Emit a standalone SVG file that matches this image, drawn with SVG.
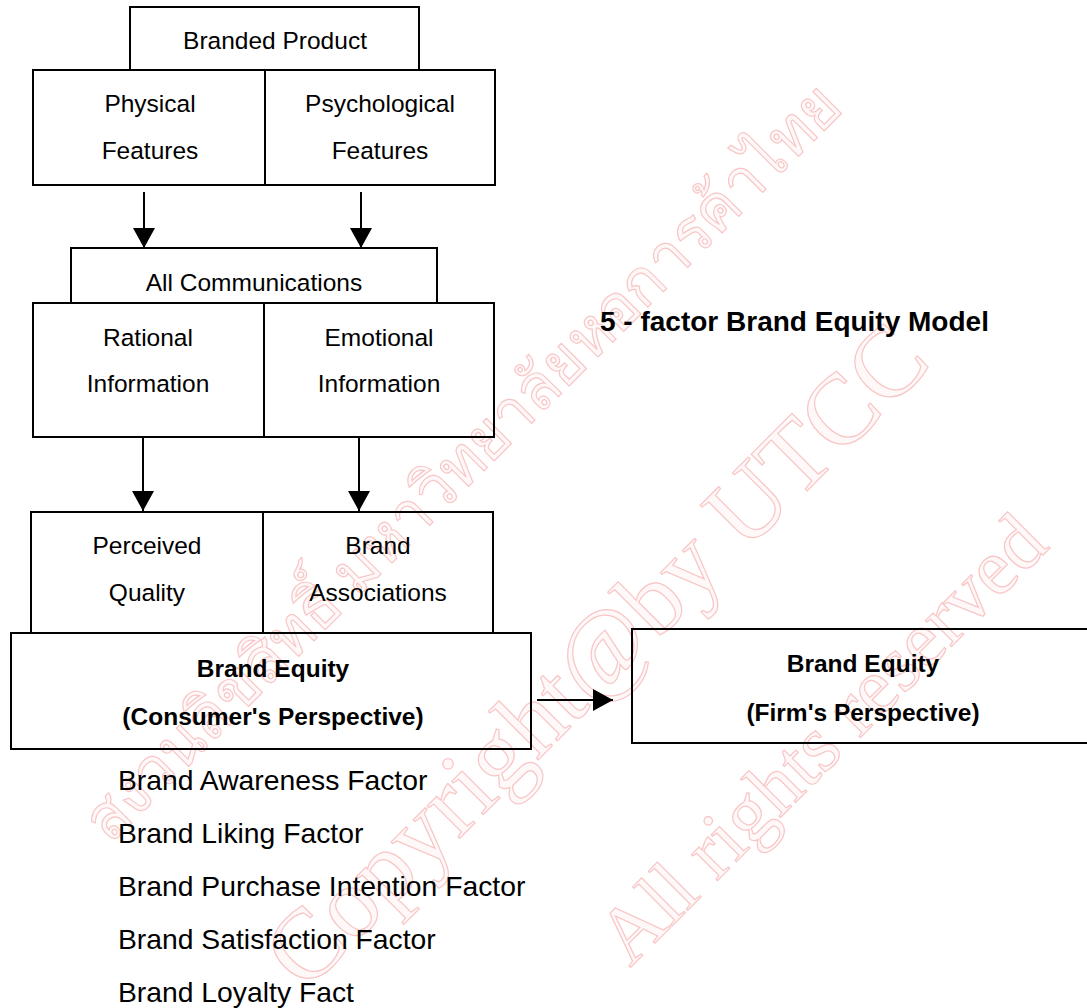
<svg xmlns="http://www.w3.org/2000/svg" width="1087" height="1008" viewBox="0 0 1087 1008">
<style>
.box{fill:none;stroke:#000;stroke-width:2}
.ln{stroke:#000;stroke-width:2;fill:none}
.t{font-family:"Liberation Sans",Arial,sans-serif;font-size:24.5px;text-anchor:middle;fill:#000}
.b{font-weight:bold}
.lst{font-family:"Liberation Sans",Arial,sans-serif;font-size:28.3px;fill:#000}
.wm{font-family:"Liberation Serif","Times New Roman",serif;fill:#fff8f8;stroke:#f8c6c6;stroke-width:1.2}
</style>
<defs>
<marker id="ah" markerUnits="userSpaceOnUse" markerWidth="22" markerHeight="22" refX="20" refY="11" orient="auto">
<path d="M0,0 L20,11 L0,22 z" fill="#000"/>
</marker>
</defs>
<rect width="1087" height="1008" fill="#fff"/>
<g id="watermark">
<text class="wm" x="110" y="845" font-size="64" textLength="1040" lengthAdjust="spacingAndGlyphs" transform="rotate(-45 110 845)">สงวนลิขสิทธิ์ มหาวิทยาลัยหอการค้าไทย</text>
<text class="wm" x="305" y="993" font-size="100" textLength="889" lengthAdjust="spacingAndGlyphs" transform="rotate(-45 305 993)">Copyright@by UTCC</text>
<text class="wm" x="630" y="968" font-size="80" textLength="595" lengthAdjust="spacingAndGlyphs" transform="rotate(-45 630 968)">All rights reserved</text>
</g>
<g id="branded-product">
<rect class="box" x="130" y="7" width="289" height="63"/>
<text class="t" x="275" y="49">Branded Product</text>
</g>
<g id="physical-features">
<rect class="box" x="33" y="70" width="232" height="115"/>
<text class="t" x="150" y="112">Physical</text>
<text class="t" x="150" y="159">Features</text>
</g>
<g id="psychological-features">
<rect class="box" x="265" y="70" width="230" height="115"/>
<text class="t" x="380" y="112">Psychological</text>
<text class="t" x="380" y="159">Features</text>
</g>
<g id="all-communications">
<rect class="box" x="71" y="248" width="366" height="55"/>
<text class="t" x="254" y="291">All Communications</text>
</g>
<g id="rational-information">
<rect class="box" x="33" y="303" width="231" height="134"/>
<text class="t" x="148" y="346">Rational</text>
<text class="t" x="148" y="392">Information</text>
</g>
<g id="emotional-information">
<rect class="box" x="264" y="303" width="230" height="134"/>
<text class="t" x="379" y="346">Emotional</text>
<text class="t" x="379" y="392">Information</text>
</g>
<g id="perceived-quality">
<rect class="box" x="31" y="512" width="232" height="121"/>
<text class="t" x="147" y="554">Perceived</text>
<text class="t" x="147" y="601">Quality</text>
</g>
<g id="brand-associations">
<rect class="box" x="263" y="512" width="230" height="121"/>
<text class="t" x="378" y="554">Brand</text>
<text class="t" x="378" y="601">Associations</text>
</g>
<g id="brand-equity-consumer">
<rect class="box" x="11" y="633" width="520" height="116"/>
<text class="t b" x="273" y="677">Brand Equity</text>
<text class="t b" x="273" y="725">(Consumer's Perspective)</text>
</g>
<g id="brand-equity-firm">
<rect class="box" x="632" y="629" width="462" height="114"/>
<text class="t b" x="863" y="672">Brand Equity</text>
<text class="t b" x="863" y="721">(Firm's Perspective)</text>
</g>
<g id="title">
<text x="600" y="331" style="font-family:'Liberation Sans',Arial,sans-serif;font-size:28px;font-weight:bold;fill:#000">5 - factor Brand Equity Model</text>
</g>
<g id="factors">
<text class="lst" x="118" y="790">Brand Awareness Factor</text>
<text class="lst" x="118" y="843">Brand Liking Factor</text>
<text class="lst" x="118" y="896">Brand Purchase Intention Factor</text>
<text class="lst" x="118" y="949">Brand Satisfaction Factor</text>
<text class="lst" x="118" y="1002">Brand Loyalty Fact</text>
</g>
<g id="connectors">
<line class="ln" x1="144" y1="192" x2="144" y2="248" marker-end="url(#ah)"/>
<line class="ln" x1="361" y1="192" x2="361" y2="248" marker-end="url(#ah)"/>
<line class="ln" x1="143" y1="437" x2="143" y2="511" marker-end="url(#ah)"/>
<line class="ln" x1="359" y1="437" x2="359" y2="511" marker-end="url(#ah)"/>
<line class="ln" x1="537" y1="700" x2="613" y2="700" marker-end="url(#ah)"/>
</g>
</svg>
